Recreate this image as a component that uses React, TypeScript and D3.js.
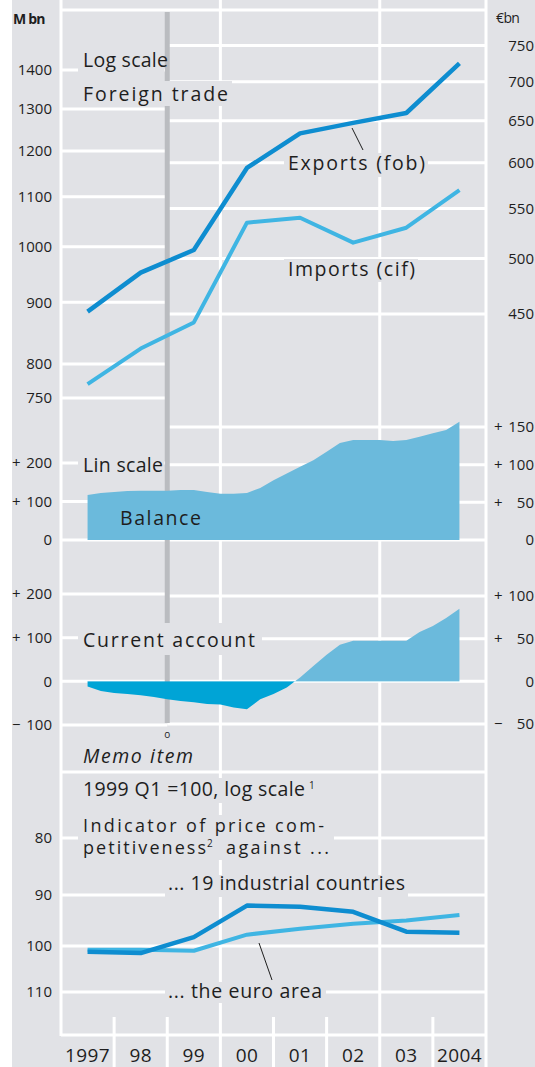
import React from "react";
import * as d3 from "d3";

// Germany: foreign trade, current account and price competitiveness
const yearLabels = ["1997", "98", "99", "00", "01", "02", "03", "2004"];
const years = [1997, 1998, 1999, 2000, 2001, 2002, 2003, 2004];

// foreign trade, DM bn (log scale)
const exportsFob = [884, 952, 994, 1162, 1241, 1266, 1290, 1418];
const importsCif = [770, 824, 866, 1047, 1057, 1008, 1037, 1114];
const tradeTicksDM = [750, 800, 900, 1000, 1100, 1200, 1300, 1400];
const tradeTicksEUR = [450, 500, 550, 600, 650, 700, 750];

// quarterly balances, DM bn (lin scale)
const quarterTimes = [
  1997.5, 1997.75, 1998, 1998.25, 1998.5, 1998.75, 1999, 1999.25, 1999.5, 1999.75,
  2000, 2000.25, 2000.5, 2000.75, 2001, 2001.25, 2001.5, 2001.75, 2002, 2002.25,
  2002.5, 2002.75, 2003, 2003.25, 2003.5, 2003.75, 2004, 2004.25, 2004.5,
];
const tradeBalance = [
  117, 122, 125, 127, 128, 128, 128, 130, 130, 125,
  120, 120, 122, 135, 155, 173, 190, 207, 229, 252,
  260, 260, 260, 257, 260, 268, 277, 286, 307,
];
const currentAccount = [
  -12, -22, -27, -29, -32, -36, -41, -45, -48, -52,
  -53, -60, -64, -41, -29, -14, 9, 35, 61, 84,
  93, 93, 93, 93, 93, 113, 127, 145, 166,
];
const balanceTicksDM = [0, 100, 200];
const balanceTicksEUR = [0, 50, 100, 150];
const caTicksDM = [-100, 0, 100, 200];
const caTicksEUR = [-50, 0, 50, 100];

// price competitiveness, 1999 Q1 = 100 (log scale, inverted)
const industrial19 = [101.2, 101.5, 98.2, 92.0, 92.2, 93.2, 97.1, 97.3];
const euroArea = [100.8, 100.8, 101.0, 97.7, 96.5, 95.5, 94.9, 93.8];
const memoTicks = [80, 90, 100, 110];

const DM_PER_EUR = 1.95583;

const W = 535;
const H = 1067;
const BG = "#e1e2e6";
const GRID = "#ffffff";
const TXT = "#1e1e1e";
const DARK = "#0e8dd0";
const LIGHT = "#3fb5e3";
const AREA = "#6bbadc";
const NEG = "#00a4d6";
const FONT = "'Open Sans', sans-serif";

const sign = (v: number) => (v > 0 ? "+" : v < 0 ? "\u2212" : "");

// text label, stretched to the width it has in the original, on a patch of background
const Label = ({ x, y, w, bg, children, size = 19.5, style }: any) => (
  <g>
    {bg && <rect x={bg[0]} y={bg[1]} width={bg[2] - bg[0]} height={bg[3] - bg[1]} fill={BG} />}
    <text x={x} y={y} fontSize={size} fill={TXT} fontStyle={style} textLength={w} lengthAdjust="spacing">
      {children}
    </text>
  </g>
);
const Sup = ({ x, y, children }: any) => (
  <text x={x} y={y - 7} fontSize={10} fill={TXT}>{children}</text>
);

export default function App() {
  const x = d3.scaleLinear().domain([1997, 2005]).range([61, 486]);
  const mid = (yr: number) => x(yr + 0.5);
  const L = x.range()[0];
  const R = x.range()[1];
  const euroX = x(1999);

  const yTrade = d3.scaleLog().domain([750, 1400]).range([398, 70]);
  const yBal = d3.scaleLinear().domain([0, 200]).range([540, 463]);
  const yCA = d3.scaleLinear().domain([-100, 200]).range([725, 594]);
  const yMemo = d3.scaleLog().domain([80, 110]).range([838, 992]);

  const tradeLine = (vals: number[]) =>
    d3.line<number>().x((_, i) => mid(years[i])).y((d) => yTrade(d))(vals) || "";
  const memoLine = (vals: number[]) =>
    d3.line<number>().x((_, i) => mid(years[i])).y((d) => yMemo(d))(vals) || "";
  const balArea =
    d3.area<number>().x((_, i) => x(quarterTimes[i])).y0(yBal(0)).y1((d) => yBal(d))(tradeBalance) || "";
  const caArea =
    d3.area<number>().x((_, i) => x(quarterTimes[i])).y0(yCA(0)).y1((d) => yCA(d))(currentAccount) || "";

  const hl = (y: number, x1: number, x2: number, k: string) => (
    <line key={k} x1={x1} x2={x2} y1={y} y2={y} stroke={GRID} strokeWidth={3} />
  );
  const vl = (xx: number, y1: number, y2: number, k: string) => (
    <line key={k} x1={xx} x2={xx} y1={y1} y2={y2} stroke={GRID} strokeWidth={3} />
  );

  const leftTick = (v: number, y: number, k: string, withSign: boolean) => (
    <g key={k} fontSize={15} fill={TXT}>
      {withSign && v !== 0 && (
        <text x={12} y={y} dy="0.36em">{sign(v)}</text>
      )}
      <text x={52} y={y} dy="0.36em" textAnchor="end">{Math.abs(v)}</text>
    </g>
  );
  const rightTick = (v: number, y: number, k: string, withSign: boolean) => (
    <g key={k} fontSize={15} fill={TXT}>
      {withSign && v !== 0 && (
        <text x={494} y={y} dy="0.36em">{sign(v)}</text>
      )}
      <text x={534} y={y} dy="0.36em" textAnchor="end">{Math.abs(v)}</text>
    </g>
  );

  const caZero = yCA(0);

  return (
    <svg width={W} height={H} fontFamily={FONT} style={{ position: "absolute", left: 0, top: 0, display: "block" }}>
      <defs>
        <clipPath id="caPos"><rect x={0} y={0} width={W} height={caZero} /></clipPath>
        <clipPath id="caNeg"><rect x={0} y={caZero} width={W} height={H - caZero} /></clipPath>
      </defs>
      <rect x={12} y={0} width={W - 12} height={H} fill={BG} />

      {/* grid */}
      {hl(10, L, R, "top")}
      {tradeTicksDM.map((v) => hl(yTrade(v), L, euroX, "td" + v))}
      {tradeTicksEUR.map((v) => hl(yTrade(v * DM_PER_EUR), euroX, R, "te" + v))}
      {balanceTicksDM.map((v) => hl(yBal(v), L, euroX, "bd" + v))}
      {balanceTicksEUR.map((v) => hl(yBal(v * DM_PER_EUR), euroX, R, "be" + v))}
      {caTicksDM.map((v) => hl(yCA(v), L, euroX, "cd" + v))}
      {caTicksEUR.map((v) => hl(yCA(v * DM_PER_EUR), euroX, R, "ce" + v))}
      {hl(772, L, R, "memoTop")}
      {memoTicks.map((v) => hl(yMemo(v), L, R, "m" + v))}
      {hl(1035, L, R, "axis")}
      {vl(L, 0, 1036, "left")}
      {vl(R, 0, H, "right")}
      {[2000, 2003].map((yr) => vl(x(yr), 0, H, "g" + yr))}
      {[1998, 1999, 2001, 2002, 2004].map((yr) => vl(x(yr), 1017, H, "t" + yr))}

      {/* euro changeover marker */}
      <line x1={euroX} x2={euroX} y1={12} y2={723} stroke="#babcc0" strokeWidth={5} />
      <text x={euroX} y={738} fontSize={10} textAnchor="middle" fill={TXT}>o</text>

      {/* balances */}
      <path d={balArea} fill={AREA} />
      <path d={caArea} fill={AREA} clipPath="url(#caPos)" />
      <path d={caArea} fill={NEG} clipPath="url(#caNeg)" />

      {/* labels */}
      <Label x={83} y={67} w={85} bg={[78, 52, 164, 74]}>Log scale</Label>
      <Label x={83} y={101} w={145} bg={[78, 81, 232, 106]}>Foreign trade</Label>
      <Label x={288} y={170} w={137} bg={[284, 153, 428, 177]}>Exports (fob)</Label>
      <Label x={288} y={276} w={127} bg={[284, 259, 418, 282]}>Imports (cif)</Label>
      <line x1={352} y1={128} x2={363} y2={150} stroke={TXT} strokeWidth={1} />
      <Label x={83} y={472} w={80} bg={[78, 455, 164, 477]}>Lin scale</Label>
      <Label x={120} y={525} w={81}>Balance</Label>
      <Label x={83} y={647} w={172} bg={[78, 623, 262, 655]}>Current account</Label>
      <Label x={83} y={763} w={110} style="italic">Memo item</Label>
      <Label x={83} y={796} w={222} bg={[78, 778, 318, 803]}>1999 Q1 =100, log scale</Label>
      <Sup x={309} y={796}>1</Sup>
      <rect x={78} y={815} width={256} height={45} fill={BG} />
      <Label x={83} y={832} w={241} size={18}>Indicator of price com-</Label>
      <Label x={83} y={854} w={123} size={18}>petitiveness</Label>
      <Sup x={207} y={854}>2</Sup>
      <Label x={226} y={854} w={103} size={18}>against ...</Label>
      <Label x={168} y={890} w={237} bg={[165, 875, 408, 897]}>... 19 industrial countries</Label>
      <Label x={168} y={998} w={154} bg={[165, 982, 326, 1003]}>... the euro area</Label>
      <line x1={259} y1={943} x2={272} y2={980} stroke={TXT} strokeWidth={1} />

      {/* lines */}
      <path d={tradeLine(importsCif)} fill="none" stroke={LIGHT} strokeWidth={4} strokeLinejoin="round" />
      <path d={tradeLine(exportsFob)} fill="none" stroke={DARK} strokeWidth={4.5} strokeLinejoin="round" />
      <path d={memoLine(euroArea)} fill="none" stroke={LIGHT} strokeWidth={4} strokeLinejoin="round" />
      <path d={memoLine(industrial19)} fill="none" stroke={DARK} strokeWidth={4.5} strokeLinejoin="round" />

      {/* axes */}
      <text x={13} y={24} fontSize={14} fontWeight={700} letterSpacing={-0.8} fill={TXT}>M bn</text>
      <text x={496} y={23} fontSize={14} letterSpacing={-0.6} fill={TXT}>€bn</text>
      {tradeTicksDM.map((v) => leftTick(v, yTrade(v), "lt" + v, false))}
      {tradeTicksEUR.map((v) => rightTick(v, yTrade(v * DM_PER_EUR), "rt" + v, false))}
      {balanceTicksDM.map((v) => leftTick(v, yBal(v), "lb" + v, true))}
      {balanceTicksEUR.map((v) => rightTick(v, yBal(v * DM_PER_EUR), "rb" + v, true))}
      {caTicksDM.map((v) => leftTick(v, yCA(v), "lc" + v, true))}
      {caTicksEUR.map((v) => rightTick(v, yCA(v * DM_PER_EUR), "rc" + v, true))}
      {memoTicks.map((v) => leftTick(v, yMemo(v), "lm" + v, false))}
      {yearLabels.map((lab, i) => (
        <text key={lab} x={mid(years[i])} y={1062} fontSize={19} letterSpacing={0.4} textAnchor="middle" fill={TXT}>
          {lab}
        </text>
      ))}
    </svg>
  );
}
